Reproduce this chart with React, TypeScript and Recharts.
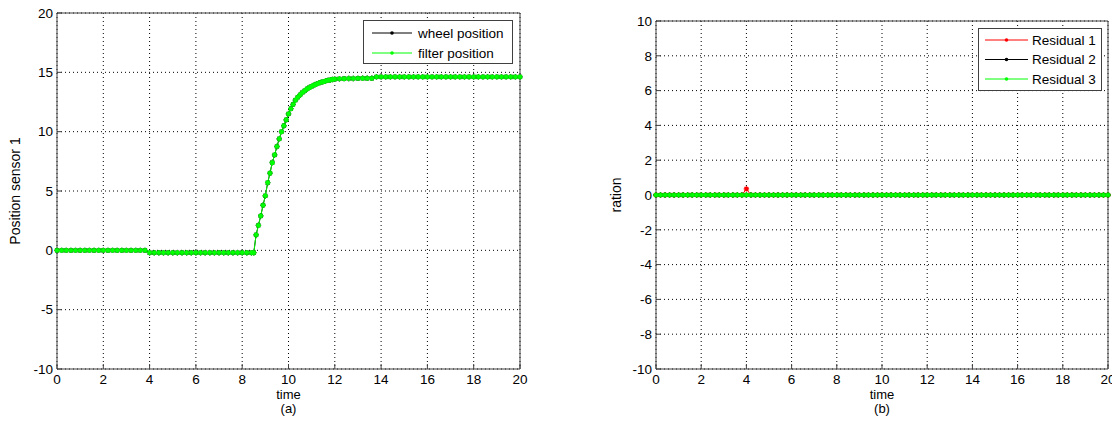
import { CartesianGrid, Legend, Line, LineChart, XAxis, YAxis } from 'recharts'

const font = '"Liberation Sans", Arial, sans-serif'
const frame = '#404040'

// (a) position sensor 1
const posTime = [
  0, 0.2, 0.4, 0.6, 0.8, 1, 1.2, 1.4, 1.6, 1.8,
  2, 2.2, 2.4, 2.6, 2.8, 3, 3.2, 3.4, 3.6, 3.8,
  4, 4.2, 4.4, 4.6, 4.8, 5, 5.2, 5.4, 5.6, 5.8,
  6, 6.2, 6.4, 6.6, 6.8, 7, 7.2, 7.4, 7.6, 7.8,
  8, 8.2, 8.4,
  8.5, 8.6, 8.7, 8.8, 8.9, 9, 9.1, 9.2, 9.3, 9.4,
  9.5, 9.6, 9.7, 9.8, 9.9, 10, 10.1, 10.2, 10.3, 10.4,
  10.5, 10.6, 10.7, 10.8, 10.9, 11, 11.1, 11.2, 11.3, 11.4,
  11.5, 11.6, 11.7, 11.8, 11.9, 12,
  12.2, 12.4, 12.6, 12.8, 13, 13.2, 13.4, 13.6,
  13.8, 14, 14.2, 14.4, 14.6, 14.8, 15, 15.2, 15.4, 15.6,
  15.8, 16, 16.2, 16.4, 16.6, 16.8, 17, 17.2, 17.4, 17.6,
  17.8, 18, 18.2, 18.4, 18.6, 18.8, 19, 19.2, 19.4, 19.6,
  19.8, 20,
]

const wheelPos = [
  0, 0, 0, 0, 0, 0, 0, 0, 0, 0,
  0, 0, 0, 0, 0, 0, 0, 0, 0, 0,
  -0.2, -0.2, -0.2, -0.2, -0.2, -0.2, -0.2, -0.2, -0.2, -0.2,
  -0.2, -0.2, -0.2, -0.2, -0.2, -0.2, -0.2, -0.2, -0.2, -0.2,
  -0.2, -0.2, -0.2,
  -0.2, 1.3, 2.1, 2.9, 3.8, 4.6, 5.7, 6.5, 7.4, 8.05,
  8.75, 9.4, 10, 10.5, 11, 11.5, 11.95, 12.3, 12.65, 12.9,
  13.1, 13.3, 13.45, 13.6, 13.72, 13.82, 13.92, 14, 14.08, 14.15,
  14.22, 14.27, 14.32, 14.36, 14.4, 14.43,
  14.46, 14.47, 14.48, 14.48, 14.49, 14.5, 14.5, 14.5,
  14.62, 14.62, 14.62, 14.62, 14.62, 14.62, 14.62, 14.62, 14.62, 14.62,
  14.62, 14.62, 14.62, 14.62, 14.62, 14.62, 14.62, 14.62, 14.62, 14.62,
  14.62, 14.62, 14.62, 14.62, 14.62, 14.62, 14.62, 14.62, 14.62, 14.62,
  14.62, 14.62,
]

const filterPos = [
  0, 0, 0, 0, 0, 0, 0, 0, 0, 0,
  0, 0, 0, 0, 0, 0, 0, 0, 0, 0,
  -0.2, -0.2, -0.2, -0.2, -0.2, -0.2, -0.2, -0.2, -0.2, -0.2,
  -0.2, -0.2, -0.2, -0.2, -0.2, -0.2, -0.2, -0.2, -0.2, -0.2,
  -0.2, -0.2, -0.2,
  -0.2, 1.3, 2.1, 2.9, 3.8, 4.6, 5.7, 6.5, 7.4, 8.05,
  8.75, 9.4, 10, 10.5, 11, 11.5, 11.95, 12.3, 12.65, 12.9,
  13.1, 13.3, 13.45, 13.6, 13.72, 13.82, 13.92, 14, 14.08, 14.15,
  14.22, 14.27, 14.32, 14.36, 14.4, 14.43,
  14.46, 14.47, 14.48, 14.48, 14.49, 14.5, 14.5, 14.5,
  14.62, 14.62, 14.62, 14.62, 14.62, 14.62, 14.62, 14.62, 14.62, 14.62,
  14.62, 14.62, 14.62, 14.62, 14.62, 14.62, 14.62, 14.62, 14.62, 14.62,
  14.62, 14.62, 14.62, 14.62, 14.62, 14.62, 14.62, 14.62, 14.62, 14.62,
  14.62, 14.62,
]

// (b) residuals
const resTime = [
  0, 0.2, 0.4, 0.6, 0.8, 1, 1.2, 1.4, 1.6, 1.8,
  2, 2.2, 2.4, 2.6, 2.8, 3, 3.2, 3.4, 3.6, 3.8,
  4, 4.2, 4.4, 4.6, 4.8, 5, 5.2, 5.4, 5.6, 5.8,
  6, 6.2, 6.4, 6.6, 6.8, 7, 7.2, 7.4, 7.6, 7.8,
  8, 8.2, 8.4, 8.6, 8.8, 9, 9.2, 9.4, 9.6, 9.8,
  10, 10.2, 10.4, 10.6, 10.8, 11, 11.2, 11.4, 11.6, 11.8,
  12, 12.2, 12.4, 12.6, 12.8, 13, 13.2, 13.4, 13.6, 13.8,
  14, 14.2, 14.4, 14.6, 14.8, 15, 15.2, 15.4, 15.6, 15.8,
  16, 16.2, 16.4, 16.6, 16.8, 17, 17.2, 17.4, 17.6, 17.8,
  18, 18.2, 18.4, 18.6, 18.8, 19, 19.2, 19.4, 19.6, 19.8,
  20,
]

const residual1 = [
  0, 0, 0, 0, 0, 0, 0, 0, 0, 0,
  0, 0, 0, 0, 0, 0, 0, 0, 0, 0,
  0.35, 0, 0, 0, 0, 0, 0, 0, 0, 0,
  0, 0, 0, 0, 0, 0, 0, 0, 0, 0,
  0, 0, 0, 0, 0, 0, 0, 0, 0, 0,
  0, 0, 0, 0, 0, 0, 0, 0, 0, 0,
  0, 0, 0, 0, 0, 0, 0, 0, 0, 0,
  0, 0, 0, 0, 0, 0, 0, 0, 0, 0,
  0, 0, 0, 0, 0, 0, 0, 0, 0, 0,
  0, 0, 0, 0, 0, 0, 0, 0, 0, 0,
  0,
]

const residual2 = [
  0, 0, 0, 0, 0, 0, 0, 0, 0, 0,
  0, 0, 0, 0, 0, 0, 0, 0, 0, 0,
  0, 0, 0, 0, 0, 0, 0, 0, 0, 0,
  0, 0, 0, 0, 0, 0, 0, 0, 0, 0,
  0, 0, 0, 0, 0, 0, 0, 0, 0, 0,
  0, 0, 0, 0, 0, 0, 0, 0, 0, 0,
  0, 0, 0, 0, 0, 0, 0, 0, 0, 0,
  0, 0, 0, 0, 0, 0, 0, 0, 0, 0,
  0, 0, 0, 0, 0, 0, 0, 0, 0, 0,
  0, 0, 0, 0, 0, 0, 0, 0, 0, 0,
  0,
]

const residual3 = [
  0, 0, 0, 0, 0, 0, 0, 0, 0, 0,
  0, 0, 0, 0, 0, 0, 0, 0, 0, 0,
  0, 0, 0, 0, 0, 0, 0, 0, 0, 0,
  0, 0, 0, 0, 0, 0, 0, 0, 0, 0,
  0, 0, 0, 0, 0, 0, 0, 0, 0, 0,
  0, 0, 0, 0, 0, 0, 0, 0, 0, 0,
  0, 0, 0, 0, 0, 0, 0, 0, 0, 0,
  0, 0, 0, 0, 0, 0, 0, 0, 0, 0,
  0, 0, 0, 0, 0, 0, 0, 0, 0, 0,
  0, 0, 0, 0, 0, 0, 0, 0, 0, 0,
  0,
]

const timeTicks = [0, 2, 4, 6, 8, 10, 12, 14, 16, 18, 20]
const posTicks = [-10, -5, 0, 5, 10, 15, 20]
const resTicks = [-10, -8, -6, -4, -2, 0, 2, 4, 6, 8, 10]

const posNames = ['wheel position', 'filter position']
const posColors = ['#000000', '#00ff00']
const resNames = ['Residual 1', 'Residual 2', 'Residual 3']
const resColors = ['#ff0000', '#000000', '#00ff00']

const posRows = posTime.map((t, i) => ({ t, wheel: wheelPos[i], filter: filterPos[i] }))
const resRows = resTime.map((t, i) => ({
  t,
  r1: residual1[i],
  r2: residual2[i],
  r3: residual3[i],
}))

const tickStyle = { fill: '#000', fontSize: 13.5, fontFamily: font }

// matlab style '*' marker
const star = (color: string) => (p: any) => {
  const { cx, cy, index } = p
  if (cx == null || cy == null) return <g key={index} />
  const r = 2.7
  const d = 1.9
  return (
    <path
      key={index}
      d={`M${cx - r} ${cy}H${cx + r}M${cx} ${cy - r}V${cy + r}M${cx - d} ${cy - d}L${cx + d} ${cy + d}M${cx - d} ${cy + d}L${cx + d} ${cy - d}`}
      stroke={color}
      strokeWidth={1.3}
      fill='none'
    />
  )
}

const xLabel = (sub: string) => (p: any) => {
  const vb = p.viewBox
  const cx = vb.x + vb.width / 2
  return (
    <g fontFamily={font} fontSize={13} fill='#000' textAnchor='middle'>
      <text x={cx} y={vb.y + 30}>time</text>
      <text x={cx} y={vb.y + 44}>{sub}</text>
    </g>
  )
}

const yLabel = (text: string, x: number) => (p: any) => {
  const vb = p.viewBox
  const cy = vb.y + vb.height / 2
  return (
    <text
      transform={`translate(${x},${cy}) rotate(-90)`}
      textAnchor='middle'
      fontFamily={font}
      fontSize={14}
      fill='#000'
    >
      {text}
    </text>
  )
}

function LegendBox(props: {
  names: string[]
  colors: string[]
  w: number
  h: number
  y0: number
  gap: number
  x0: number
  lineW: number
  textX: number
}) {
  const { names, colors, w, h, y0, gap, x0, lineW, textX } = props
  return (
    <div
      style={{
        width: w,
        height: h,
        boxSizing: 'border-box',
        border: `1px solid ${frame}`,
        background: '#fff',
      }}
    >
      <svg width={w - 2} height={h - 2} style={{ display: 'block' }}>
        {names.map((n, i) => {
          const y = y0 + i * gap
          return (
            <g key={n}>
              <line x1={x0} x2={x0 + lineW} y1={y} y2={y} stroke={colors[i]} />
              <circle cx={x0 + lineW / 2} cy={y} r={1.8} fill={colors[i]} />
              <text x={textX} y={y} dy='0.36em' fontFamily={font} fontSize={13.5} fill='#000'>
                {n}
              </text>
            </g>
          )
        })}
      </svg>
    </div>
  )
}

export default function App() {
  return (
    <div
      style={{
        position: 'absolute',
        left: 0,
        top: 0,
        width: 1112,
        height: 426,
        background: '#fff',
        overflow: 'hidden',
      }}
    >
      <div style={{ position: 'absolute', left: 0, top: 0 }}>
        <LineChart
          width={540}
          height={426}
          data={posRows}
          margin={{ top: 12, right: 19, bottom: 0, left: 0 }}
        >
          <CartesianGrid stroke='#000' strokeDasharray='1 3' />
          <XAxis
            dataKey='t'
            type='number'
            domain={[0, 20]}
            ticks={timeTicks}
            height={57}
            tickSize={-5}
            tickMargin={10}
            stroke={frame}
            tick={tickStyle}
            interval={0}
            label={xLabel('(a)')}
          />
          <XAxis
            xAxisId='top'
            orientation='top'
            dataKey='t'
            type='number'
            domain={[0, 20]}
            ticks={timeTicks}
            height={1}
            tickSize={-5}
            tick={false}
            stroke={frame}
          />
          <YAxis
            type='number'
            domain={[-10, 20]}
            ticks={posTicks}
            width={57}
            tickSize={-5}
            tickMargin={9}
            stroke={frame}
            tick={tickStyle}
            interval={0}
            label={yLabel('Position sensor 1', 20)}
          />
          <YAxis
            yAxisId='right'
            orientation='right'
            type='number'
            domain={[-10, 20]}
            ticks={posTicks}
            width={1}
            tickSize={-5}
            tick={false}
            stroke={frame}
          />
          <Legend
            verticalAlign='middle'
            align='center'
            wrapperStyle={{ left: 363, top: 20, width: 150 }}
            content={() => (
              <LegendBox
                names={posNames}
                colors={posColors}
                w={150}
                h={44}
                y0={12}
                gap={20}
                x0={8}
                lineW={40}
                textX={54}
              />
            )}
          />
          <Line
            dataKey='wheel'
            name={posNames[0]}
            stroke={posColors[0]}
            strokeWidth={1}
            dot={star(posColors[0])}
            isAnimationActive={false}
          />
          <Line
            dataKey='filter'
            name={posNames[1]}
            stroke={posColors[1]}
            strokeWidth={1}
            dot={star(posColors[1])}
            isAnimationActive={false}
          />
        </LineChart>
      </div>

      <div style={{ position: 'absolute', left: 590, top: 0 }}>
        <LineChart
          width={522}
          height={426}
          data={resRows}
          margin={{ top: 20, right: 3, bottom: 0, left: 0 }}
        >
          <CartesianGrid stroke='#000' strokeDasharray='1 3' />
          <XAxis
            dataKey='t'
            type='number'
            domain={[0, 20]}
            ticks={timeTicks}
            height={57}
            tickSize={-5}
            tickMargin={10}
            stroke={frame}
            tick={tickStyle}
            interval={0}
            label={xLabel('(b)')}
          />
          <XAxis
            xAxisId='top'
            orientation='top'
            dataKey='t'
            type='number'
            domain={[0, 20]}
            ticks={timeTicks}
            height={1}
            tickSize={-5}
            tick={false}
            stroke={frame}
          />
          <YAxis
            type='number'
            domain={[-10, 10]}
            ticks={resTicks}
            width={66}
            tickSize={-5}
            tickMargin={9}
            stroke={frame}
            tick={tickStyle}
            interval={0}
            label={yLabel('ration', 31)}
          />
          <YAxis
            yAxisId='right'
            orientation='right'
            type='number'
            domain={[-10, 10]}
            ticks={resTicks}
            width={1}
            tickSize={-5}
            tick={false}
            stroke={frame}
          />
          <Legend
            verticalAlign='middle'
            align='center'
            wrapperStyle={{ left: 388, top: 28, width: 124 }}
            content={() => (
              <LegendBox
                names={resNames}
                colors={resColors}
                w={124}
                h={63}
                y0={11}
                gap={19.5}
                x0={6}
                lineW={43}
                textX={53}
              />
            )}
          />
          <Line
            dataKey='r1'
            name={resNames[0]}
            stroke={resColors[0]}
            strokeWidth={1}
            dot={star(resColors[0])}
            isAnimationActive={false}
          />
          <Line
            dataKey='r2'
            name={resNames[1]}
            stroke={resColors[1]}
            strokeWidth={1}
            dot={star(resColors[1])}
            isAnimationActive={false}
          />
          <Line
            dataKey='r3'
            name={resNames[2]}
            stroke={resColors[2]}
            strokeWidth={1}
            dot={star(resColors[2])}
            isAnimationActive={false}
          />
        </LineChart>
      </div>
    </div>
  )
}
